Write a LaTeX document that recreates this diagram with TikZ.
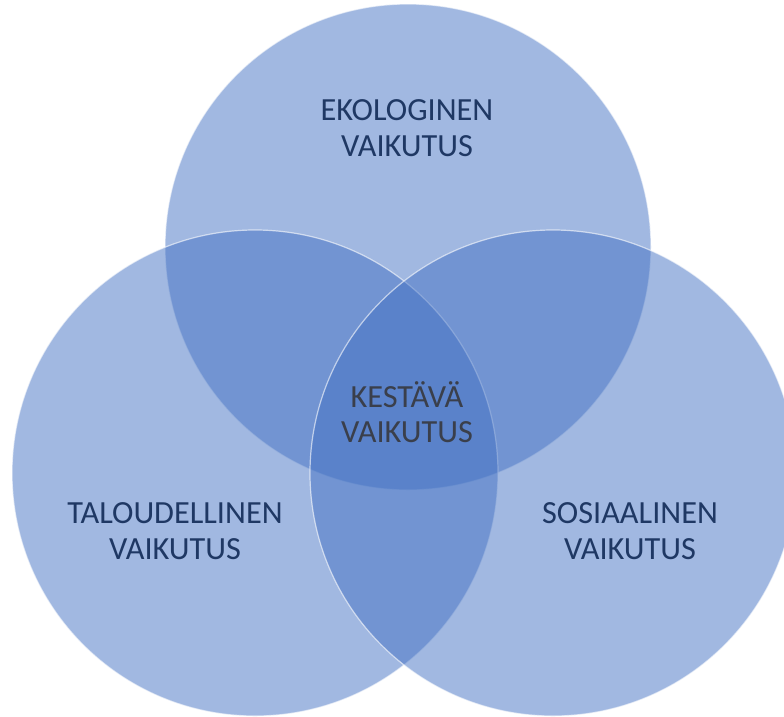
\documentclass[tikz,border=0pt]{standalone}
\usepackage{fontspec}
\setmainfont{Carlito}
\definecolor{circfill}{HTML}{4472C4}
\definecolor{outertext}{HTML}{1F3864}
\definecolor{innertext}{HTML}{3A3F4B}
\begin{document}
\begin{tikzpicture}[x=1pt,y=-1pt,
  venn/.style={fill=circfill,fill opacity=0.5,draw=white,draw opacity=0.6,line width=1.2pt},
  lbl/.style={align=center,font=\fontsize{32.3}{35.5}\selectfont,text=outertext,inner sep=0pt},
  clbl/.style={lbl,text=innertext}]
\useasboundingbox (0,0) rectangle (784,716);
\clip (0,0) rectangle (784,716);
\fill[white] (0,0) rectangle (784,716);
\coordinate (ct) at (408,247);
\coordinate (cl) at (255,473);
\coordinate (cr) at (553,473);
\draw[venn] (ct) circle[radius=243];
\draw[venn] (cl) circle[radius=243];
\draw[venn] (cr) circle[radius=243];
\node[lbl] (eko) at (407,128) {EKOLOGINEN\\VAIKUTUS};
\node[lbl] (tal) at (175,531) {TALOUDELLINEN\\VAIKUTUS};
\node[lbl] (sos) at (630,531) {SOSIAALINEN\\VAIKUTUS};
\node[clbl] (kes) at (407,412) {KESTÄVÄ\\VAIKUTUS};
\end{tikzpicture}
\end{document}
